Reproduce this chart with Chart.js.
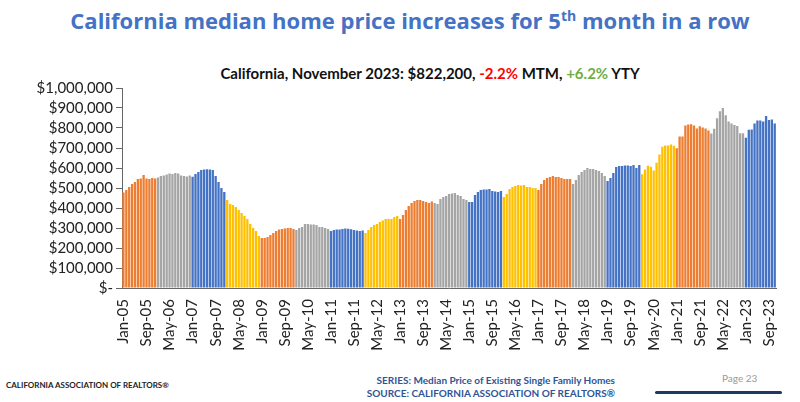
<!DOCTYPE html>
<html><head><meta charset="utf-8">
<script src="https://cdn.jsdelivr.net/npm/chart.js@4"></script>
<style>
body{margin:0;width:800px;height:402px;background:#fff;position:relative;overflow:hidden;font-family:Lato,"Open Sans",sans-serif}
#t{position:absolute;top:5px;left:10px;width:800px;text-align:center;color:#4472C4;font-weight:bold;font-size:22px;font-family:"Open Sans",sans-serif}
#t sup{font-size:14px}
#s{position:absolute;top:64px;left:30px;width:800px;text-align:center;font-weight:bold;font-size:15px;color:#111}
#c{position:absolute;left:0;top:76px;width:790px;height:284px}
.f1{position:absolute;left:6px;top:380px;font-size:8px;color:#222;font-weight:bold}
.f2{position:absolute;left:330px;top:374px;width:285px;text-align:right;font-size:10px;color:#2F5597;font-weight:bold;line-height:13px}
.pg{position:absolute;left:722px;top:372px;font-size:10px;color:#999}
.ln{position:absolute;left:655px;top:391px;width:127px;height:3px;background:#1F3864;border-radius:2px}
</style></head><body>
<div id="t">California median home price increases for 5<sup>th</sup> month in a row</div>
<div id="s">California, November 2023: $822,200, <span style="color:#FF0000">-2.2%</span> MTM, <span style="color:#70AD47">+6.2%</span> YTY</div>
<div id="c"><canvas id="cv"></canvas></div>
<div class="f1">CALIFORNIA ASSOCIATION OF REALTORS®</div>
<div class="f2">SERIES: Median Price of Existing Single Family Homes<br>SOURCE: CALIFORNIA ASSOCIATION OF REALTORS®</div>
<div class="pg">Page 23</div><div class="ln"></div>
<script>
const months=["Jan","Feb","Mar","Apr","May","Jun","Jul","Aug","Sep","Oct","Nov","Dec"];
const startYear=2005;
const yTicks=[0,100000,200000,300000,400000,500000,600000,700000,800000,900000,1000000];
const v2005=[477,490,505,520,530,545,548,565,548,545,550,548];
const v2006=[552,560,562,568,572,570,575,572,563,560,558,563];
const v2007=[556,570,580,590,592,594,592,590,560,530,500,480];
const v2008=[440,420,415,405,390,375,360,345,320,300,285,260];
const v2009=[250,250,255,265,275,285,292,295,298,300,300,295];
const v2010=[290,300,305,320,320,318,318,315,305,305,300,295];
const v2011=[285,290,292,293,295,297,296,294,290,287,285,288];
const v2012=[275,290,305,315,320,330,337,345,345,345,355,360];
const v2013=[345,365,390,410,425,435,440,440,435,430,425,432];
const v2014=[425,420,445,455,460,470,473,475,465,460,445,440];
const v2015=[430,430,465,480,490,492,493,495,485,482,480,485];
const v2016=[455,470,495,505,510,515,512,515,505,505,500,500];
const v2017=[490,520,540,550,555,560,555,555,550,545,545,545];
const v2018=[520,540,565,580,590,600,595,595,590,585,575,560];
const v2019=[535,550,575,605,610,610,612,612,610,615,600,615];
const v2020=[569,592,611,606,588,626,667,706,713,712,717,711];
const v2021=[699,758,758,813,818,819,812,797,809,802,798,787];
const v2022=[772,796,849,884,900,864,833,823,815,810,774,774];
const v2023=[751,791,792,822,838,837,833,860,840,843,822];
const years=[v2005,v2006,v2007,v2008,v2009,v2010,v2011,v2012,v2013,v2014,v2015,v2016,v2017,v2018,v2019,v2020,v2021,v2022,v2023];
const yearColors=["#ED7D31","#A5A5A5","#4472C4","#FFC000"];
const labels=[],values=[],colors=[];
years.forEach((arr,yi)=>arr.forEach((v,m)=>{labels.push(months[m]+"-"+String((startYear+yi)%100).padStart(2,"0"));values.push(v*1000);colors.push(yearColors[yi%4]);}));
new Chart(document.getElementById("cv"),{type:"bar",
data:{labels,datasets:[{data:values,backgroundColor:colors,barPercentage:1,categoryPercentage:0.8}]},
options:{responsive:true,maintainAspectRatio:false,animation:false,
layout:{padding:{top:4,right:4}},
plugins:{legend:{display:false},tooltip:{enabled:false}},
scales:{
x:{afterFit:s=>{s.height=72},grid:{display:false,drawOnChartArea:false},border:{color:"#666"},
 ticks:{autoSkip:false,maxRotation:90,minRotation:90,color:"#222",font:{size:15,family:"Lato"},
 callback:(v,i)=>i%8===0?labels[i]:null}},
y:{min:0,max:1000000,afterFit:s=>{s.width=122},afterBuildTicks:s=>{s.ticks=yTicks.map(v=>({value:v}))},
 grid:{drawOnChartArea:false,drawTicks:true,tickLength:6,color:"#666"},border:{color:"#666"},
 ticks:{autoSkip:false,color:"#222",font:{size:15,family:"Lato"},padding:3,
 callback:v=>v===0?"$-":"$"+v.toLocaleString("en-US")}}
}}});
</script></body></html>
